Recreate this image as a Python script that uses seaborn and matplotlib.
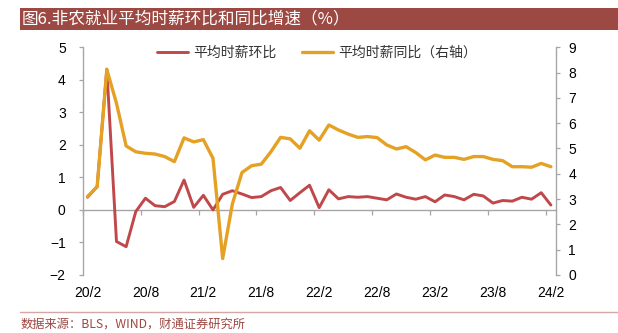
import matplotlib
matplotlib.use("Agg")
import matplotlib.pyplot as plt
from matplotlib.patches import Rectangle
from matplotlib.lines import Line2D
import numpy as np
import pandas as pd
import seaborn as sns

# Monthly series, 2020/2 .. 2024/2
months = pd.date_range("2020-02-01", "2024-02-01", freq="MS")
month_labels = [f"{d.year % 100}/{d.month}" for d in months]

# Average hourly earnings, month-on-month (%) - left axis
mom = [0.39, 0.72, 4.33, -0.97, -1.13, -0.05, 0.36, 0.13, 0.10, 0.26,
       0.92, 0.08, 0.45, 0.00, 0.48, 0.59, 0.49, 0.38, 0.41, 0.59,
       0.69, 0.29, 0.53, 0.76, 0.07, 0.62, 0.34, 0.41, 0.39, 0.41,
       0.36, 0.31, 0.49, 0.39, 0.33, 0.41, 0.25, 0.46, 0.41, 0.31,
       0.48, 0.43, 0.21, 0.29, 0.27, 0.39, 0.33, 0.53, 0.15]

# Average hourly earnings, year-on-year (%) - right axis
yoy = [3.10, 3.49, 8.12, 6.79, 5.10, 4.87, 4.81, 4.78, 4.68, 4.48,
       5.42, 5.26, 5.35, 4.61, 0.65, 2.80, 4.05, 4.32, 4.38, 4.87,
       5.44, 5.38, 5.01, 5.70, 5.33, 5.93, 5.73, 5.57, 5.44, 5.47,
       5.43, 5.14, 4.98, 5.07, 4.84, 4.55, 4.74, 4.65, 4.65, 4.57,
       4.68, 4.68, 4.57, 4.52, 4.28, 4.28, 4.26, 4.41, 4.28]

title_text = "图6.非农就业平均时薪环比和同比增速（%）"
label_mom = "平均时薪环比"
label_yoy = "平均时薪同比（右轴）"
source_text = "数据来源：BLS，WIND，财通证券研究所"

RED = "#C0484A"
GOLD = "#E4A124"
GRAY = "#A6A6A6"
BAR = "#9C4843"

sns.set_theme(style="white")
plt.rcParams["font.family"] = ["Liberation Sans", "Noto Sans CJK SC", "DejaVu Sans"]
CJK = ["Noto Sans CJK SC", "DejaVu Sans"]

df = pd.DataFrame({"pos": np.arange(len(months)), "mom": mom, "yoy": yoy})

fig = plt.figure(figsize=(6.18, 3.33), dpi=100)
ax = fig.add_axes([0.1338, 0.1742, 0.7654, 0.6838])
ax2 = ax.twinx()

sns.lineplot(data=df, x="pos", y="mom", ax=ax, color=RED, lw=2.1,
             label=label_mom, solid_joinstyle="round", solid_capstyle="round")
sns.lineplot(data=df, x="pos", y="yoy", ax=ax2, color=GOLD, lw=2.4,
             label=label_yoy, solid_joinstyle="round", solid_capstyle="round")
for a in (ax, ax2):
    if a.get_legend() is not None:
        a.get_legend().remove()
    a.set_xlabel("")
    a.set_ylabel("")
    a.grid(False)

ax.set_xlim(-0.5, len(months) - 0.5)
ax.set_ylim(-2, 5)
ax2.set_ylim(0, 9)
ax.set_yticks(range(-2, 6))
ax2.set_yticks(range(0, 10))

# category labels every six months along the bottom
label_pos = list(range(0, len(months), 6))
ax.set_xticks(label_pos)
ax.set_xticklabels([month_labels[i] for i in label_pos])
ax.tick_params(axis="x", length=0, pad=8, labelsize=10, labelcolor="black")
ax.tick_params(axis="y", direction="out", length=3.2, width=0.9, color=GRAY,
               pad=9, labelsize=10, labelcolor="black", left=True)
ax2.tick_params(axis="y", direction="out", length=3.2, width=0.9, color=GRAY,
                pad=6, labelsize=10, labelcolor="black", right=True)

for a in (ax, ax2):
    for s in ("top", "bottom"):
        a.spines[s].set_visible(False)
ax.spines["right"].set_visible(False)
ax2.spines["left"].set_visible(False)
ax.spines["left"].set_color(GRAY)
ax2.spines["right"].set_color(GRAY)
ax.spines["left"].set_linewidth(1.0)
ax2.spines["right"].set_linewidth(1.0)

# zero line with tick marks at the category boundaries
zero_frac = (0 - (-2)) / (5 - (-2))
sec = ax.secondary_xaxis(zero_frac)
sec.set_xticks([p - 0.5 for p in label_pos])
sec.set_xticklabels([])
sec.tick_params(direction="out", length=3.5, width=0.9, color=GRAY)
sec.spines["bottom"].set_color(GRAY)
sec.spines["bottom"].set_linewidth(1.0)

# legend across the top of the plot
handles = [Line2D([], [], color=RED, lw=2.1), Line2D([], [], color=GOLD, lw=2.4)]
fig.legend(handles, [label_mom, label_yoy], loc="center",
           bbox_to_anchor=(0.513, 0.842), ncol=2, frameon=False,
           prop={"family": CJK, "size": 10}, handlelength=2.2,
           handletextpad=0.35, columnspacing=1.9, borderpad=0,
           labelcolor="#333333")

# title bar
fig.patches.append(Rectangle((20 / 618, 1 - 30 / 333), 1 - 20 / 618, 21.7 / 333,
                             transform=fig.transFigure, facecolor=BAR,
                             edgecolor="none", zorder=0))
fig.text(22 / 618, 1 - 19.3 / 333, title_text, color="white", fontsize=12,
         family=CJK, va="center", ha="left")

# source line and note
fig.add_artist(Line2D([20 / 618, 1.0], [1 - 312 / 333, 1 - 312 / 333],
                      transform=fig.transFigure, color="#D2A7A4", lw=1.0))
fig.text(20.5 / 618, 1 - 324 / 333, source_text, color=BAR, fontsize=8.8,
         family=CJK, va="center", ha="left")

fig.savefig("out.png", dpi=100)
